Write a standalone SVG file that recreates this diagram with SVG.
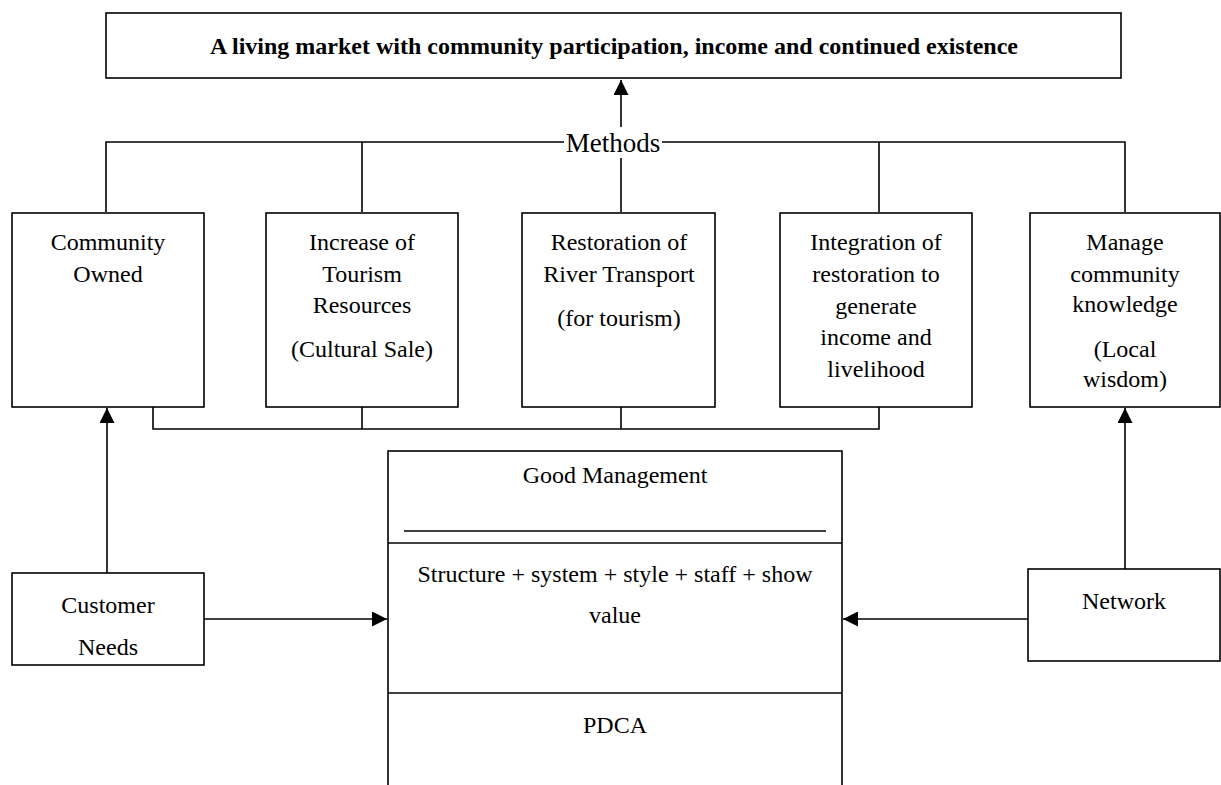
<svg xmlns="http://www.w3.org/2000/svg" width="1221" height="785" viewBox="0 0 1221 785">
<style>
.box{fill:#fff;stroke:#000;stroke-width:1.6}
.ln{fill:none;stroke:#000;stroke-width:1.6}
.t{font-family:"Liberation Serif","Times New Roman",serif;font-size:24px;fill:#000;text-anchor:middle}
.tb{font-family:"Liberation Serif","Times New Roman",serif;font-size:24px;font-weight:bold;fill:#000;text-anchor:middle}
.tm{font-family:"Liberation Serif","Times New Roman",serif;font-size:27px;fill:#000;text-anchor:middle}
</style>
<defs>
<marker id="ah" markerWidth="16" markerHeight="15" refX="15" refY="7.5" orient="auto" markerUnits="userSpaceOnUse">
<path d="M0,0 L15,7.5 L0,15 Z" fill="#000"/>
</marker>
</defs>
<rect width="1221" height="785" fill="#fff"/>
<g id="connectors">
<path class="ln" d="M106,212 V142 H564 M662,142 H1125 V212 M362,142 V212 M879,142 V212 M621,158 V212"/>
<line class="ln" x1="621" y1="127" x2="621" y2="80" marker-end="url(#ah)"/>
<path class="ln" d="M153,407 V429 H879 V407 M362,407 V429 M621,407 V429"/>
<line class="ln" x1="107" y1="573" x2="107" y2="408" marker-end="url(#ah)"/>
<line class="ln" x1="1125" y1="573" x2="1125" y2="408" marker-end="url(#ah)"/>
<line class="ln" x1="204" y1="619" x2="387" y2="619" marker-end="url(#ah)"/>
<line class="ln" x1="1028" y1="619" x2="843" y2="619" marker-end="url(#ah)"/>
<text class="tm" x="613" y="152">Methods</text>
</g>
<g id="goal">
<rect class="box" x="106" y="13" width="1015" height="65"/>
<text class="tb" x="614" y="54">A living market with community participation, income and continued existence</text>
</g>
<g id="community-owned">
<rect class="box" x="12" y="213" width="192" height="194"/>
<text class="t" x="108" y="250">Community</text>
<text class="t" x="108" y="282">Owned</text>
</g>
<g id="tourism-resources">
<rect class="box" x="266" y="213" width="192" height="194"/>
<text class="t" x="362" y="250">Increase of</text>
<text class="t" x="362" y="282">Tourism</text>
<text class="t" x="362" y="313">Resources</text>
<text class="t" x="362" y="357">(Cultural Sale)</text>
</g>
<g id="river-transport">
<rect class="box" x="522" y="213" width="193" height="194"/>
<text class="t" x="619" y="250">Restoration of</text>
<text class="t" x="619" y="282">River Transport</text>
<text class="t" x="619" y="326">(for tourism)</text>
</g>
<g id="integration">
<rect class="box" x="780" y="213" width="192" height="194"/>
<text class="t" x="876" y="250">Integration of</text>
<text class="t" x="876" y="282">restoration to</text>
<text class="t" x="876" y="314">generate</text>
<text class="t" x="876" y="345">income and</text>
<text class="t" x="876" y="377">livelihood</text>
</g>
<g id="community-knowledge">
<rect class="box" x="1030" y="213" width="190" height="194"/>
<text class="t" x="1125" y="250">Manage</text>
<text class="t" x="1125" y="282">community</text>
<text class="t" x="1125" y="312">knowledge</text>
<text class="t" x="1125" y="357">(Local</text>
<text class="t" x="1125" y="387">wisdom)</text>
</g>
<g id="good-management">
<rect class="box" x="388" y="451" width="454" height="345"/>
<line class="ln" x1="404" y1="531" x2="826" y2="531"/>
<line class="ln" x1="388" y1="543" x2="842" y2="543"/>
<line class="ln" x1="388" y1="693" x2="842" y2="693"/>
<text class="t" x="615" y="483">Good Management</text>
<text class="t" x="615" y="582">Structure + system + style + staff + show</text>
<text class="t" x="615" y="623">value</text>
<text class="t" x="615" y="733">PDCA</text>
</g>
<g id="customer-needs">
<rect class="box" x="12" y="573" width="192" height="92"/>
<text class="t" x="108" y="613">Customer</text>
<text class="t" x="108" y="655">Needs</text>
</g>
<g id="network">
<rect class="box" x="1028" y="569" width="192" height="92"/>
<text class="t" x="1124" y="609">Network</text>
</g>
</svg>
